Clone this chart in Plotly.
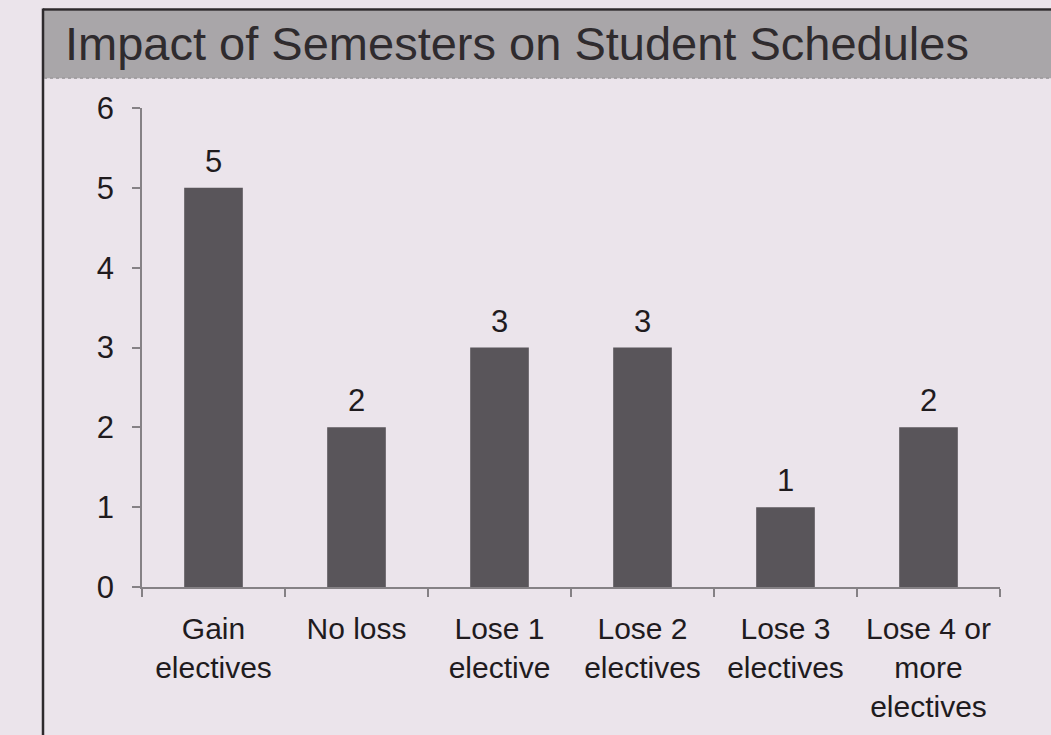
import plotly.graph_objects as go

categories = ["Gain<br>electives", "No loss", "Lose 1<br>elective", "Lose 2<br>electives",
              "Lose 3<br>electives", "Lose 4 or<br>more<br>electives"]
values = [5, 2, 3, 3, 1, 2]
y_ticks = [0, 1, 2, 3, 4, 5, 6]
title_text = "Impact of Semesters on Student Schedules"

W, H = 1051, 735
L, R, T, B = 142, 51, 108, 145
PW = W - L - R
PH = H - T - B

def px_x(p):
    return (p - L) / PW

def px_y(p):
    return (H - B - p) / PH

FONT = "Liberation Sans, Arial, sans-serif"
TXT = "#1f1b1e"
BAR = "#59555a"
BG = "#ebe4eb"

fig = go.Figure()
fig.add_trace(go.Bar(
    x=categories, y=values, width=0.41,
    marker=dict(color=BAR, line=dict(width=0)),
    hoverinfo="skip",
))

for c, v in zip(categories, values):
    fig.add_annotation(x=c, y=v, text=str(v), showarrow=False,
                       yanchor="bottom", yshift=7,
                       font=dict(family=FONT, size=31, color=TXT))

shapes = [
    dict(type="rect", xref="paper", yref="paper",
         x0=px_x(44), x1=px_x(1060), y0=px_y(78), y1=px_y(10),
         fillcolor="#a9a6a9", line=dict(width=0), layer="below"),
    dict(type="line", xref="paper", yref="paper",
         x0=px_x(43), x1=px_x(1060), y0=px_y(9), y1=px_y(9),
         line=dict(color="#2e2a2d", width=2.5)),
    dict(type="line", xref="paper", yref="paper",
         x0=px_x(43), x1=px_x(43), y0=px_y(8), y1=px_y(745),
         line=dict(color="#2e2a2d", width=2.5)),
    dict(type="line", xref="paper", yref="paper",
         x0=px_x(44), x1=px_x(1060), y0=px_y(78), y1=px_y(78),
         line=dict(color="#8e8a8e", width=1, dash="dot")),
]

fig.update_layout(
    width=W, height=H,
    margin=dict(l=L, r=R, t=T, b=B, pad=0),
    paper_bgcolor=BG, plot_bgcolor=BG,
    showlegend=False,
    shapes=shapes,
    title=dict(text=title_text, x=65 / W, xanchor="left", y=1 - 44 / H, yanchor="middle",
               xref="container", yref="container",
               font=dict(family=FONT, size=47, color="#2f2b2e")),
    bargap=0.59,
)

fig.update_xaxes(
    type="category", range=[-0.5, 5.5],
    showline=True, linecolor="#858185", linewidth=1.5,
    ticks="outside", ticklen=8, tickcolor="#858185", tickwidth=1.5,
    tickson="boundaries", showgrid=False, zeroline=False,
    tickfont=dict(family=FONT, size=30, color=TXT),
    ticklabelstandoff=14,
)
fig.update_yaxes(
    range=[0, 6], tickvals=y_ticks,
    showline=True, linecolor="#858185", linewidth=1.5,
    ticks="outside", ticklen=8, tickcolor="#858185", tickwidth=1.5,
    showgrid=False, zeroline=False,
    tickfont=dict(family=FONT, size=31, color=TXT),
    ticklabelstandoff=12,
)

fig.write_html("out.html",
               config={"displayModeBar": False},
               post_script="document.body.style.margin='0';"
                           "document.body.style.background='#ebe4eb';")
